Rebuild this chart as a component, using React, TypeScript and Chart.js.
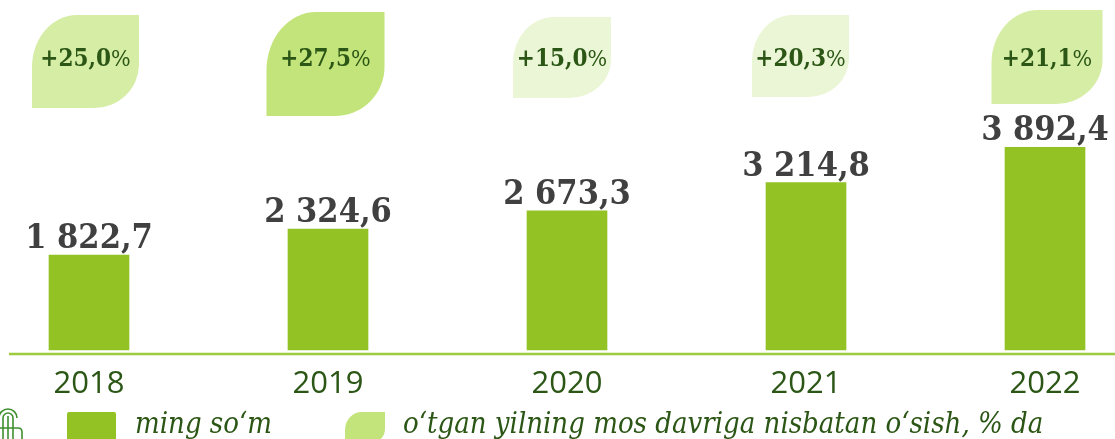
import React, { useEffect, useRef } from "react";
import { Chart, registerables } from "chart.js";

Chart.register(...registerables);

// ---- data ----
const years = ["2018", "2019", "2020", "2021", "2022"];
const values = [1822.7, 2324.6, 2673.3, 3214.8, 3892.4];
const growth = [25.0, 27.5, 15.0, 20.3, 21.1];
const seriesLabel = "ming so\u2018m";
const growthLabel = "o\u2018tgan yilning mos davriga nisbatan o\u2018sish, % da";

// ---- styles ----
const BAR_COLOR = "#93c225";
const AXIS_COLOR = "#9dcb3f";
const DARK_GREEN = "#2b5615";
const VALUE_COLOR = "#404040";
const leafW = [107, 118, 98, 97, 111];
const leafH = [93, 104, 81, 82, 94];
const leafTop = [15, 12, 17, 15, 10];
const leafDx = [-3.5, -2.5, -5, -5.5, 2];
const leafColors = ["#d5eda4", "#c3e47a", "#eaf6d5", "#eaf6d5", "#d5eda4"];
const SERIF_C = '"DejaVu Serif Condensed", "DejaVu Serif", serif';

function fmtValue(v: number): string {
  const [i, d] = v.toFixed(1).split(".");
  return i.replace(/\B(?=(\d{3})+(?!\d))/g, " ") + "," + d;
}
function fmtGrowth(v: number): string {
  return "+" + v.toFixed(1).replace(".", ",");
}

function leafPath(ctx: CanvasRenderingContext2D, x: number, y: number, w: number, h: number) {
  const rx1 = 0.42 * w, ry1 = 0.56 * h;
  const rx2 = 0.42 * w, ry2 = 0.47 * h;
  ctx.beginPath();
  ctx.moveTo(x + rx1, y);
  ctx.lineTo(x + w, y);
  ctx.lineTo(x + w, y + h - ry2);
  ctx.ellipse(x + w - rx2, y + h - ry2, rx2, ry2, 0, 0, Math.PI / 2);
  ctx.lineTo(x, y + h);
  ctx.lineTo(x, y + ry1);
  ctx.ellipse(x + rx1, y + ry1, rx1, ry1, 0, Math.PI, Math.PI * 1.5);
  ctx.closePath();
}

const decorPlugin = {
  id: "decor",
  beforeDatasetsDraw(chart: any) {
    const ctx = chart.ctx as CanvasRenderingContext2D;
    const area = chart.chartArea;
    ctx.save();
    ctx.strokeStyle = AXIS_COLOR;
    ctx.lineWidth = 2.5;
    ctx.beginPath();
    ctx.moveTo(9, area.bottom + 4);
    ctx.lineTo(chart.width, area.bottom + 4);
    ctx.stroke();
    ctx.restore();
  },
  afterDatasetsDraw(chart: any) {
    const ctx = chart.ctx as CanvasRenderingContext2D;
    const xScale = chart.scales.x;
    const meta = chart.getDatasetMeta(0);
    ctx.save();

    // leaves with growth
    growth.forEach((g, i) => {
      const cx = xScale.getPixelForValue(i) + leafDx[i];
      const w = leafW[i], h = leafH[i];
      leafPath(ctx, cx - w / 2, leafTop[i], w, h);
      ctx.fillStyle = leafColors[i];
      ctx.fill();
      const main = fmtGrowth(g);
      ctx.font = `bold 24px ${SERIF_C}`;
      const w1 = ctx.measureText(main).width;
      ctx.font = `23px ${SERIF_C}`;
      const w2 = ctx.measureText("%").width;
      const sx = cx - (w1 + w2) / 2;
      ctx.fillStyle = DARK_GREEN;
      ctx.textBaseline = "alphabetic";
      ctx.textAlign = "left";
      ctx.font = `bold 24px ${SERIF_C}`;
      ctx.fillText(main, sx, 66);
      ctx.font = `23px ${SERIF_C}`;
      ctx.fillText("%", sx + w1, 66);
    });

    // value labels
    ctx.font = `bold 34px ${SERIF_C}`;
    ctx.fillStyle = VALUE_COLOR;
    ctx.textAlign = "center";
    ctx.textBaseline = "alphabetic";
    meta.data.forEach((bar: any, i: number) => {
      ctx.fillText(fmtValue(values[i]), bar.x, bar.y - 7);
    });

    // year labels
    ctx.font = '31px "Open Sans", sans-serif';
    ctx.fillStyle = DARK_GREEN;
    years.forEach((y, i) => {
      ctx.fillText(y, xScale.getPixelForValue(i), 393);
    });

    // legend
    ctx.fillStyle = BAR_COLOR;
    ctx.beginPath();
    ctx.roundRect(67, 412, 49, 34, 2);
    ctx.fill();
    ctx.font = `italic 29px ${SERIF_C}`;
    ctx.fillStyle = DARK_GREEN;
    ctx.textAlign = "left";
    ctx.fillText(seriesLabel, 135, 433);
    leafPath(ctx, 345, 412, 40, 32);
    ctx.fillStyle = "#c3e47a";
    ctx.fill();
    ctx.fillStyle = DARK_GREEN;
    ctx.fillText(growthLabel, 403, 433);

    // small logo fragment
    ctx.strokeStyle = "#3f8f2f";
    ctx.lineWidth = 1.6;
    ctx.beginPath();
    ctx.arc(8, 418, 9, Math.PI, Math.PI * 2);
    ctx.stroke();
    ctx.beginPath();
    ctx.arc(8, 418, 5, Math.PI, Math.PI * 2);
    ctx.stroke();
    ctx.beginPath();
    ctx.moveTo(3, 418); ctx.lineTo(3, 439);
    ctx.moveTo(13, 418); ctx.lineTo(13, 439);
    ctx.moveTo(8, 416); ctx.lineTo(8, 439);
    ctx.moveTo(0, 428); ctx.lineTo(18, 428);
    ctx.quadraticCurveTo(22, 428, 22, 432);
    ctx.lineTo(22, 439);
    ctx.stroke();

    ctx.restore();
  },
};

export default function App() {
  const ref = useRef<HTMLCanvasElement | null>(null);
  useEffect(() => {
    if (!ref.current) return;
    const chart = new Chart(ref.current, {
      type: "bar",
      data: {
        labels: years,
        datasets: [
          {
            label: seriesLabel,
            data: values,
            backgroundColor: BAR_COLOR,
            barThickness: 80,
            clip: false as any,
          },
        ],
      },
      options: {
        animation: false,
        responsive: false,
        layout: { padding: { left: 89, right: 70, top: 0, bottom: 89 } },
        scales: {
          x: { display: false, offset: false },
          y: { display: false, min: 0, max: 6725 },
        },
        plugins: { legend: { display: false }, tooltip: { enabled: false } },
      },
      plugins: [decorPlugin],
    });
    return () => chart.destroy();
  }, []);
  return (
    <div style={{ position: "fixed", left: 0, top: 0, width: 1115, height: 439, background: "#fff" }}>
      <canvas ref={ref} width={1115} height={439} style={{ display: "block" }} />
    </div>
  );
}
